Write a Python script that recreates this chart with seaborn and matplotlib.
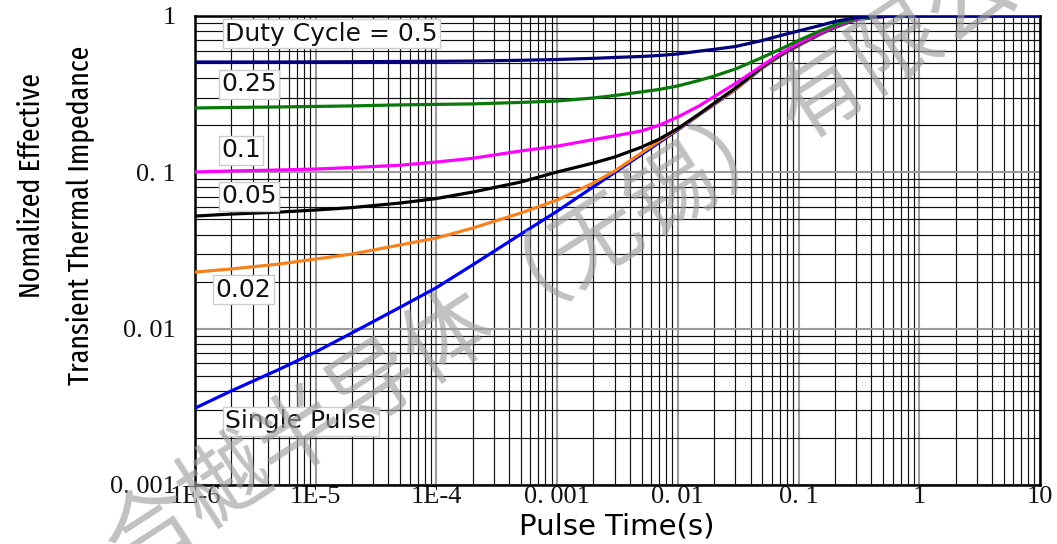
import os
import numpy as np
import pandas as pd
import matplotlib
matplotlib.use("Agg")
import matplotlib.pyplot as plt
from matplotlib import font_manager
from matplotlib.font_manager import FontProperties
from matplotlib.ticker import LogLocator, FixedLocator, FixedFormatter, NullFormatter
import seaborn as sns

# Pulse duration (s)
pulse_time = [1e-6, 2e-6, 5e-6, 1e-5, 2e-5, 5e-5, 1e-4, 2e-4, 5e-4, 1e-3, 2e-3, 3e-3, 5e-3,
              7e-3, 1e-2, 1.5e-2, 2e-2, 3e-2, 5e-2, 7e-2, 0.1, 0.15, 0.2, 0.3, 0.5, 1.0, 10.0]

# Normalized effective transient thermal impedance for each duty cycle
z_single = [0.0031, 0.0040, 0.0055, 0.0071, 0.0094, 0.0137, 0.0183, 0.0256, 0.0402, 0.0564,
            0.0809, 0.0998, 0.130, 0.155, 0.187, 0.233, 0.272, 0.339, 0.465, 0.555, 0.648,
            0.762, 0.844, 0.950, 0.993, 1.0, 1.0]
z_002 = [0.0230, 0.0241, 0.0259, 0.0279, 0.0300, 0.0343, 0.0380, 0.0440, 0.0549, 0.0665,
         0.0855, 0.102, 0.133, 0.1585, 0.189, 0.234, 0.274, 0.341, 0.468, 0.559, 0.652,
         0.767, 0.850, 0.957, 0.993, 1.0, 1.0]
z_005 = [0.0525, 0.0541, 0.0557, 0.0574, 0.0595, 0.0636, 0.0680, 0.0748, 0.0867, 0.1005,
         0.1147, 0.1253, 0.145, 0.163, 0.1906, 0.236, 0.277, 0.346, 0.472, 0.563, 0.657,
         0.773, 0.857, 0.957, 0.993, 1.0, 1.0]
z_01 = [0.1005, 0.102, 0.1035, 0.105, 0.1073, 0.111, 0.1164, 0.123, 0.137, 0.147,
        0.162, 0.171, 0.184, 0.200, 0.226, 0.266, 0.305, 0.370, 0.482, 0.572, 0.667,
        0.778, 0.863, 0.957, 0.993, 1.0, 1.0]
z_025 = [0.258, 0.260, 0.262, 0.264, 0.266, 0.270, 0.272, 0.274, 0.280, 0.286,
         0.299, 0.310, 0.327, 0.339, 0.357, 0.387, 0.413, 0.458, 0.543, 0.611, 0.697,
         0.802, 0.876, 0.964, 0.993, 1.0, 1.0]
z_05 = [0.508, 0.508, 0.508, 0.509, 0.510, 0.512, 0.513, 0.515, 0.521, 0.527,
        0.536, 0.543, 0.551, 0.559, 0.572, 0.596, 0.612, 0.638, 0.697, 0.748, 0.802,
        0.869, 0.922, 0.978, 0.996, 1.0, 1.0]

series_names = ["Single Pulse", "0.02", "0.05", "0.1", "0.25", "0.5"]
series_values = [z_single, z_002, z_005, z_01, z_025, z_05]
series_colors = ["#0000ee", "#f5821f", "#000000", "#ff00ff", "#0a780a", "#00007a"]

x_tick_values = [1e-6, 1e-5, 1e-4, 1e-3, 1e-2, 1e-1, 1, 10]
x_tick_labels = ["1E-6", "1E-5", "1E-4", "0. 001", "0. 01", "0. 1", "1", "10"]
y_tick_values = [0.001, 0.01, 0.1, 1]
y_tick_labels = ["0. 001", "0. 01", "0. 1", "1"]

curve_labels = ["Duty Cycle = 0.5", "0.25", "0.1", "0.05", "0.02", "Single Pulse"]
curve_label_pos = [(0.036, 0.962), (0.031, 0.855), (0.031, 0.714),
                   (0.031, 0.616), (0.024, 0.416), (0.036, 0.136)]

y_title_lines = ["Nomalized Effective", "Transient Thermal Impedance"]
watermark = "合樾半导体（无锡）有限公司"

df = pd.concat(
    [pd.DataFrame({"t": pulse_time, "z": vals, "duty": name})
     for name, vals in zip(series_names, series_values)],
    ignore_index=True,
)

sns.set_theme(style="white")
plt.rcParams["font.family"] = ["DejaVu Sans"]


def find_condensed_font():
    """Pick a narrow sans face for the vertical title, if one is installed."""
    bad = ("bold", "italic", "oblique", "light", "thin", "black", "medium",
           "semibold", "mono", "serif")
    prefs = ["extracondensed", "dejavusanscondensed", "robotocondensed", "condensed", "narrow"]
    best, best_rank = None, 99
    for f in font_manager.fontManager.ttflist:
        base = os.path.basename(f.fname).lower().replace(" ", "").replace("_", "").replace("-", "")
        key = f.name.lower().replace(" ", "") + base
        if any(s in base for s in bad) or "semicondensed" in key:
            continue
        for rank, p in enumerate(prefs):
            if p in key and rank < best_rank:
                best, best_rank = f.fname, rank
                break
    return best


cond_path = find_condensed_font()

fig = plt.figure(figsize=(10.57, 5.44), dpi=100)
ax = fig.add_axes([195 / 1057, 1 - 485 / 544, 845 / 1057, 469 / 544])

sns.lineplot(data=df, x="t", y="z", hue="duty", hue_order=series_names,
             palette=dict(zip(series_names, series_colors)),
             linewidth=2.3, legend=False, ax=ax, zorder=3)

ax.set_xscale("log")
ax.set_yscale("log")
ax.set_xlim(1e-6, 10)
ax.set_ylim(0.001, 1)

# dense engineering grid: decades in gray, 2..9 subdivisions in black
for axis in (ax.xaxis, ax.yaxis):
    axis.set_minor_locator(LogLocator(base=10, subs=np.arange(2, 10), numticks=100))
    axis.set_minor_formatter(NullFormatter())
ax.grid(which="minor", color="#111111", linewidth=0.85)
ax.grid(which="major", color="#9a9a9a", linewidth=1.5)
ax.set_axisbelow(True)

ax.xaxis.set_major_locator(FixedLocator(x_tick_values))
ax.xaxis.set_major_formatter(FixedFormatter(x_tick_labels))
ax.yaxis.set_major_locator(FixedLocator(y_tick_values))
ax.yaxis.set_major_formatter(FixedFormatter(y_tick_labels))
ax.tick_params(which="both", length=0)
ax.tick_params(axis="x", pad=1, labelsize=19, labelcolor="#111111")
ax.tick_params(axis="y", pad=14, labelsize=19, labelcolor="#111111")
for lab in ax.get_xticklabels() + ax.get_yticklabels():
    lab.set_family("Liberation Serif")

for side in ("left", "right", "top", "bottom"):
    ax.spines[side].set_color("black")
    ax.spines[side].set_linewidth(1.8)
ax.set_xlabel("")
ax.set_ylabel("")

# duty-cycle labels
for text, (px, py) in zip(curve_labels, curve_label_pos):
    ax.text(px, py, text, transform=ax.transAxes, ha="left", va="center",
            fontsize=18, color="#111111", zorder=5,
            bbox=dict(boxstyle="square,pad=0.1", facecolor="white",
                      edgecolor="#cccccc", linewidth=1.0))

# watermark
fig.text(599 / 1057, 1 - 241 / 544, watermark, rotation=33, rotation_mode="anchor",
         ha="center", va="center", fontsize=64, color="#a0a0a0", alpha=0.65,
         family=["Noto Sans CJK SC", "DejaVu Sans"], zorder=0.5)

# axis titles
fig.text(617 / 1057, 1 - 527 / 544, "Pulse Time(s)", ha="center", va="center",
         fontsize=21, color="black")

if cond_path:
    title_font = FontProperties(fname=cond_path, size=22)
else:
    title_font = FontProperties(family="DejaVu Sans", size=22)
t1 = fig.text(32 / 1057, 1 - 186 / 544, y_title_lines[0], rotation=90,
              ha="center", va="center", fontproperties=title_font, color="black")
t2 = fig.text(80 / 1057, 1 - 215 / 544, y_title_lines[1], rotation=90,
              ha="center", va="center", fontproperties=title_font, color="black")
# size the vertical title so its long line spans the height beside the axis
renderer = fig.canvas.get_renderer()
span = t2.get_window_extent(renderer).height
new_size = 22 * 340.0 / span
for t in (t1, t2):
    t.set_fontsize(new_size)

fig.savefig("out.png", dpi=100)
